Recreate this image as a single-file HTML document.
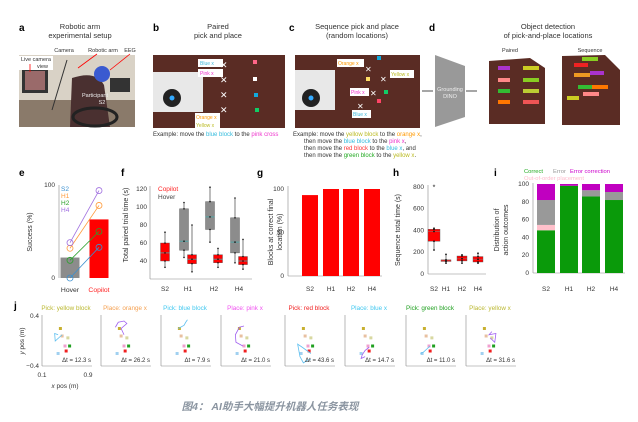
<!DOCTYPE html>
<html><head><meta charset="utf-8"><style>
body{margin:0;background:#fff}
svg{display:block;font-family:"Liberation Sans","Noto Sans CJK SC",sans-serif;font-size:6.5px}
.t{fill:#333}
.lbl{font-size:10px;font-weight:bold;fill:#000}
.tk{fill:#333}
</style></head><body>
<svg id="fig" width="638" height="422" viewBox="0 0 638 422">
<g>
<text class="lbl" x="19" y="31">a</text>
<text class="t" x="80" y="29" text-anchor="middle" font-size="7.5">Robotic arm</text>
<text class="t" x="80" y="38" text-anchor="middle" font-size="7.5">experimental setup</text>
<rect x="19" y="55" width="116" height="72" fill="#d9d2c6"/>
<rect x="19" y="100" width="116" height="27" fill="#8a7a6a"/>
<rect x="22" y="68" width="26" height="25" fill="#333"/><rect x="25" y="71" width="20" height="19" fill="#9a6a6a"/>
<rect x="110" y="78" width="20" height="14" fill="#333"/>
<path d="M72 78 Q96 70 104 85 L110 127 L70 127 Z" fill="#4a3030"/>
<circle cx="102" cy="74" r="8" fill="#3a5ad0"/>
<ellipse cx="95" cy="117" rx="22" ry="9" fill="none" stroke="#222" stroke-width="3"/>
<line x1="52" y1="110" x2="67" y2="60" stroke="#333"/>
<text class="t" x="95" y="97" text-anchor="middle" style="fill:#eee" font-size="5.5">Participant</text>
<text class="t" x="102" y="104" text-anchor="middle" style="fill:#eee" font-size="5.5">S2</text>
<text class="t" x="64" y="52" text-anchor="middle" font-size="5.5">Camera</text>
<text class="t" x="103" y="52" text-anchor="middle" font-size="5.5">Robotic arm</text>
<text class="t" x="130" y="52" text-anchor="middle" font-size="5.5">EEG</text>
<rect x="19" y="56" width="34" height="14" fill="#fff"/>
<text class="t" x="21" y="61" font-size="5.5">Live camera</text>
<text class="t" x="37" y="68" font-size="5.5">view</text>
<line x1="97" y1="54" x2="78" y2="68" stroke="red" stroke-width="0.8"/>
<line x1="130" y1="54" x2="110" y2="70" stroke="red" stroke-width="0.8"/>
<line x1="30" y1="64" x2="30" y2="72" stroke="red" stroke-width="0.8"/>
</g>
<g>
<text class="lbl" x="153" y="31">b</text>
<text class="t" x="218" y="29" text-anchor="middle" font-size="7.5">Paired</text>
<text class="t" x="218" y="38" text-anchor="middle" font-size="7.5">pick and place</text>
<rect x="153" y="55" width="132" height="73" fill="#5a2c24"/>
<rect x="153" y="72" width="50" height="40" fill="#e8e8e8"/>
<circle cx="172" cy="98" r="9" fill="#222"/><circle cx="172" cy="98" r="2.5" fill="#3af"/>
<g font-size="5" font-family="Liberation Sans">
<rect x="198" y="59" width="25" height="8" fill="#fff"/><text x="200" y="65" fill="#4bd">Blue x</text>
<rect x="198" y="69" width="25" height="8" fill="#fff"/><text x="200" y="75" fill="#e3c">Pink x</text>
<rect x="195" y="113" width="25" height="8" fill="#fff"/><text x="196" y="119" fill="#f90">Orange x</text>
<rect x="195" y="121" width="25" height="7" fill="#fff"/><text x="196" y="127" fill="#bb2">Yellow x</text>
</g>
<g fill="#fff" font-size="9"><text x="220" y="68">✕</text><text x="220" y="83">✕</text><text x="220" y="98">✕</text><text x="220" y="113">✕</text></g>
<rect x="253" y="60" width="4" height="4" fill="#f68"/><rect x="253" y="77" width="4" height="4" fill="#fff"/>
<rect x="254" y="93" width="4" height="4" fill="#1ad"/><rect x="255" y="108" width="4" height="4" fill="#1c6"/>
<text class="t" x="153" y="136" font-size="6">Example: move the <tspan fill="#3bd">blue block</tspan> to the <tspan fill="#e3c">pink cross</tspan></text>
</g>
<g>
<text class="lbl" x="289" y="31">c</text>
<text class="t" x="357" y="29" text-anchor="middle" font-size="7.5">Sequence pick and place</text>
<text class="t" x="357" y="38" text-anchor="middle" font-size="7.5">(random locations)</text>
<rect x="295" y="55" width="125" height="73" fill="#5a2c24"/>
<rect x="295" y="70" width="40" height="40" fill="#e8e8e8"/>
<circle cx="311" cy="98" r="9" fill="#222"/><circle cx="311" cy="98" r="2.5" fill="#3af"/>
<g font-size="5" font-family="Liberation Sans">
<rect x="337" y="59" width="27" height="8" fill="#fff"/><text x="338" y="65" fill="#f90">Orange x</text>
<rect x="390" y="70" width="24" height="8" fill="#fff"/><text x="391" y="76" fill="#bb2">Yellow x</text>
<rect x="350" y="88" width="19" height="8" fill="#fff"/><text x="351" y="94" fill="#e3c">Pink x</text>
<rect x="352" y="110" width="19" height="8" fill="#fff"/><text x="353" y="116" fill="#4bd">Blue x</text>
</g>
<g fill="#fff" font-size="8"><text x="365" y="72">✕</text><text x="380" y="82">✕</text><text x="370" y="96">✕</text><text x="357" y="109">✕</text></g>
<rect x="377" y="56" width="4" height="4" fill="#1ad"/><rect x="366" y="77" width="4" height="4" fill="#fd6"/>
<rect x="384" y="90" width="4" height="4" fill="#1c6"/><rect x="377" y="99" width="4" height="4" fill="#f46"/>
<g class="t" font-size="6">
<text x="293" y="136">Example: move the <tspan fill="#bb2">yellow block</tspan> to the <tspan fill="#f90">orange x</tspan>,</text>
<text x="304" y="143">then move the <tspan fill="#3bd">blue block</tspan> to the <tspan fill="#e3c">pink x</tspan>,</text>
<text x="304" y="150">then move the <tspan fill="#f33">red block</tspan> to the <tspan fill="#3bd">blue x</tspan>, and</text>
<text x="304" y="157">then move the <tspan fill="#2a2">green block</tspan> to the <tspan fill="#bb2">yellow x</tspan>.</text>
</g>
</g>
<g>
<text class="lbl" x="429" y="31">d</text>
<text class="t" x="548" y="29" text-anchor="middle" font-size="7.5">Object detection</text>
<text class="t" x="548" y="38" text-anchor="middle" font-size="7.5">of pick-and-place locations</text>
<line x1="422" y1="91" x2="433" y2="91" stroke="#222" stroke-width="0.8"/>
<line x1="466" y1="91" x2="477" y2="91" stroke="#222" stroke-width="0.8"/>
<polygon points="435,55 465,66 465,117 435,127" fill="#999"/>
<text x="450" y="91" font-size="5.5" fill="#eee" text-anchor="middle">Grounding</text>
<text x="450" y="98" font-size="5.5" fill="#eee" text-anchor="middle">DINO</text>
<text class="t" x="510" y="52" text-anchor="middle" font-size="5.5">Paired</text>
<text class="t" x="590" y="52" text-anchor="middle" font-size="5.5">Sequence</text>
<polygon points="489,61 530,58 545,68 545,124 489,124" fill="#5a2c24"/>
<polygon points="562,56 605,55 620,70 620,125 562,125" fill="#5a2c24"/>
<g>
<rect x="498" y="66" width="12" height="4" fill="#a3c"/><rect x="498" y="78" width="12" height="4" fill="#f88"/>
<rect x="498" y="89" width="12" height="4" fill="#3b3"/><rect x="498" y="100" width="12" height="4" fill="#f70"/>
<rect x="523" y="66" width="16" height="4" fill="#cc2"/><rect x="523" y="78" width="16" height="4" fill="#8c2"/>
<rect x="523" y="89" width="16" height="4" fill="#bc3"/><rect x="523" y="100" width="16" height="4" fill="#e55"/>
<rect x="582" y="57" width="16" height="4" fill="#8c2"/><rect x="574" y="63" width="14" height="4" fill="#e22"/>
<rect x="574" y="73" width="16" height="4" fill="#e92"/><rect x="590" y="71" width="14" height="4" fill="#a3c"/>
<rect x="578" y="85" width="14" height="4" fill="#3b3"/><rect x="592" y="85" width="16" height="4" fill="#f70"/>
<rect x="583" y="92" width="16" height="4" fill="#f88"/><rect x="567" y="96" width="12" height="4" fill="#cc2"/>
</g>
</g>

<g id="pe">
<text class="lbl" x="19" y="176">e</text>
<text class="tk" x="32" y="232" transform="rotate(-90 32 232)" text-anchor="middle" font-size="7">Success (%)</text>
</g>
<g id="pf">
<text class="lbl" x="121" y="176">f</text>
<text class="tk" x="128" y="225" transform="rotate(-90 128 225)" text-anchor="middle" font-size="7">Total paired trial time (s)</text>
<text x="158" y="191" font-size="6.5" fill="#f22">Copilot</text>
<text x="158" y="199" font-size="6.5" fill="#444">Hover</text>
</g>
<g id="pg">
<text class="lbl" x="257" y="176">g</text>
<text class="tk" x="273" y="232" transform="rotate(-90 273 232)" text-anchor="middle" font-size="7">Blocks at correct final</text>
<text class="tk" x="282" y="232" transform="rotate(-90 282 232)" text-anchor="middle" font-size="7">location (%)</text>
</g>
<g id="ph">
<text class="lbl" x="393" y="176">h</text>
<text class="tk" x="400" y="230" transform="rotate(-90 400 230)" text-anchor="middle" font-size="7">Sequence total time (s)</text>
</g>
<g id="pi">
<text class="lbl" x="494" y="176">i</text>
<text class="tk" x="499" y="230" transform="rotate(-90 499 230)" text-anchor="middle" font-size="7">Distribution of</text>
<text class="tk" x="508" y="230" transform="rotate(-90 508 230)" text-anchor="middle" font-size="7">action outcomes</text>
<text x="524" y="173" font-size="5.8" fill="#2a2">Correct</text>
<text x="553" y="173" font-size="5.8" fill="#999">Error</text>
<text x="570" y="173" font-size="5.8" fill="#c0c">Error correction</text>
<text x="524" y="180" font-size="5.8" fill="#fbc">Out-of-order placement</text>
</g>
<g id="pj">
<text class="lbl" x="14" y="309">j</text>
<text class="tk" x="24" y="341" transform="rotate(-90 24 341)" text-anchor="middle" font-size="6.5"><tspan font-style="italic">y</tspan> pos (m)</text>
<text class="tk" x="65" y="388" text-anchor="middle" font-size="6.5"><tspan font-style="italic">x</tspan> pos (m)</text>
</g>
<text x="270" y="410" text-anchor="middle" font-size="10.5" font-weight="bold" font-style="italic" fill="#8a94a0">图4：  AI助手大幅提升机器人任务表现</text>
</svg>
<script>
const NS="http://www.w3.org/2000/svg";
function mk(p,tag,a,txt){const e=document.createElementNS(NS,tag);for(const k in a)e.setAttribute(k,a[k]);if(txt!==undefined)e.textContent=txt;p.appendChild(e);return e;}

const eGroups=["Hover","Copilot"];
const eBars=[22,63];
const eSubjects=["S2","H1","H2","H4"];
const eSubjColors=["#3a8fd0","#ff9a3a","#2aa02a","#a070e0"];
const eHover=[0,32,19,38];
const eCopilot=[33,78,50,94];
const fCats=["S2","H1","H2","H4"];
const fHover=[null,[44,52,62,98,105],[61,75,89,106,122],[38,49,61,88,110]];
const fCopilot=[[33,40,49,60,72],[28,37,42,47,80],[33,38,42,47,54],[31,36,40,45,64]];
const fTicks=[40,60,80,100,120];
const gCats=["S2","H1","H2","H4"];
const gVals=[93,100,100,100];
const gTicks=[0,50,100];
const hCats=["S2","H1","H2","H4"];
const hBoxes=[[220,300,390,410,420],[100,115,120,130,180],[100,120,140,165,175],[100,110,135,160,190]];
const hOutliers=[800,null,null,null];
const hTicks=[0,200,400,600,800];
const iCats=["S2","H1","H2","H4"];
const iCorrect=[48,98,86,82];
const iOutOfOrder=[6,0,0,0];
const iError=[28,0,7,9];
const iErrCorr=[18,2,7,9];
const iTicks=[0,20,40,60,80,100];
const jTitles=["Pick: yellow block","Place: orange x","Pick: blue block","Place: pink x","Pick: red block","Place: blue x","Pick: green block","Place: yellow x"];
const jTitleColors=["#bbb830","#f5a050","#40c8f0","#f050f0","#f02020","#40c8f0","#20a020","#bbb830"];
const jDt=["12.3","26.2","7.9","21.0","43.6","14.7","11.0","31.6"];
const jTrajX=[[0.38,0.32,0.33,0.45],[0.35,0.4,0.5,0.55,0.45,0.5],[0.4,0.5,0.53,0.56],[0.5,0.42,0.35,0.36,0.48],[0.55,0.4,0.32,0.36,0.42,0.5,0.55],[0.52,0.45,0.4,0.38,0.45],[0.52,0.4,0.35],[0.55,0.5,0.62,0.6,0.52]];
const jTrajY=[[0.1,0.12,0,0.1],[0.22,0.3,0.32,0.28,0.2,0.1],[0.2,0.25,0.3,0.34],[0.24,0.22,0.1,-0.02,-0.08],[-0.2,-0.1,-0.05,-0.25,-0.35,-0.3,-0.3],[-0.1,-0.15,-0.22,-0.28,-0.25],[-0.08,-0.18,-0.2],[0.15,0.1,0.12,-0.02,0.05]];
const jBlockX=[0.42,0.45,0.55,0.5,0.58,0.52,0.38];
const jBlockY=[0.2,0.08,0.05,-0.08,-0.08,-0.16,-0.2];
const jBlockC=["#c8b030","#e8c0a0","#d8d8a0","#f0a0d0","#20a020","#f02020","#a0d0f0"];

(function(){const g=document.getElementById('pe');const y=v=>278-v*0.93;const xc=[70,99];
mk(g,'line',{x1:59,y1:185,x2:59,y2:278,stroke:'#888','stroke-width':0.6});
[0,100].forEach(t=>{mk(g,'text',{class:'tk',x:55,y:y(t)+2,'text-anchor':'end'},t);});
eBars.forEach((v,i)=>{const r=mk(g,'rect',{x:xc[i]-9.5,y:y(v),width:19,height:278-y(v),fill:i?'#ff0000':'#8c8c8c'});


mk(g,'text',{x:xc[i],y:292,'text-anchor':'middle','font-size':6.8,fill:i?'#f22':'#333'},eGroups[i]);});
eSubjects.forEach((s,i)=>{const c=eSubjColors[i];
const l=mk(g,'line',{x1:xc[0],y1:y(eHover[i]),x2:xc[1],y2:y(eCopilot[i]),stroke:c,'stroke-width':0.8});


mk(g,'circle',{cx:xc[0],cy:y(eHover[i]),r:3,fill:'none',stroke:c,'stroke-width':0.8});
mk(g,'circle',{cx:xc[1],cy:y(eCopilot[i]),r:3,fill:'none',stroke:c,'stroke-width':0.8});
mk(g,'text',{x:61,y:191+i*7,'font-size':6.5,fill:c},s);});})();

(function(){const g=document.getElementById('pf');const y=v=>261-(v-40)*0.9;const cx=[165,188,214,239];
mk(g,'line',{x1:150,y1:186,x2:150,y2:279,stroke:'#888','stroke-width':0.6});
mk(g,'line',{x1:150,y1:279,x2:252,y2:279,stroke:'#888','stroke-width':0.6});
fTicks.forEach(t=>mk(g,'text',{class:'tk',x:147,y:y(t)+2,'text-anchor':'end'},t));
function box(x,b,fill,name){const w=9;
mk(g,'line',{x1:x,y1:y(b[0]),x2:x,y2:y(b[4]),stroke:'#222','stroke-width':0.6});
const r=mk(g,'rect',{x:x-w/2,y:y(b[3]),width:w,height:y(b[1])-y(b[3]),fill:fill,stroke:'#555','stroke-width':0.4});


mk(g,'line',{x1:x-w/2,y1:y(b[2]),x2:x+w/2,y2:y(b[2]),stroke:'#4aa','stroke-width':0.8});
b.forEach(v=>mk(g,'circle',{cx:x,cy:y(v),r:0.8,fill:'#111'}));}
fCats.forEach((c,i)=>{const hasH=fHover[i]!==null;
if(hasH)box(cx[i]-4,fHover[i],'#8c8c8c','box-hover-'+c.toLowerCase());
box(hasH?cx[i]+4:cx[i],fCopilot[i],'#ff0000','box-copilot-'+c.toLowerCase());
mk(g,'text',{class:'tk',x:cx[i],y:291,'text-anchor':'middle'},c);});})();

(function(){const g=document.getElementById('pg');const y=v=>276-v*0.87;const cx=[310,331,351,372];
mk(g,'line',{x1:288,y1:186,x2:288,y2:276,stroke:'#888','stroke-width':0.6});
mk(g,'line',{x1:288,y1:276,x2:382,y2:276,stroke:'#888','stroke-width':0.6});
gTicks.forEach(t=>mk(g,'text',{class:'tk',x:284,y:y(t)+2,'text-anchor':'end'},t));
gCats.forEach((c,i)=>{const r=mk(g,'rect',{x:cx[i]-8,y:y(gVals[i]),width:16,height:276-y(gVals[i]),fill:'#ff0000'});


mk(g,'text',{class:'tk',x:cx[i],y:291,'text-anchor':'middle'},c);});})();

(function(){const g=document.getElementById('ph');const y=v=>274-v*0.109;const cx=[434,446,462,478];
mk(g,'line',{x1:428,y1:185,x2:428,y2:274,stroke:'#888','stroke-width':0.6});
mk(g,'line',{x1:428,y1:274,x2:486,y2:274,stroke:'#888','stroke-width':0.6});
hTicks.forEach(t=>mk(g,'text',{class:'tk',x:424,y:y(t)+2,'text-anchor':'end'},t));
hCats.forEach((c,i)=>{const b=hBoxes[i],x=cx[i],w=i?10:12;
mk(g,'line',{x1:x,y1:y(b[0]),x2:x,y2:y(b[4]),stroke:'#222','stroke-width':0.6});
const r=mk(g,'rect',{x:x-w/2,y:y(b[3]),width:w,height:y(b[1])-y(b[3]),fill:'#ff0000',stroke:'#555','stroke-width':0.4});


mk(g,'line',{x1:x-w/2,y1:y(b[2]),x2:x+w/2,y2:y(b[2]),stroke:'#a55','stroke-width':0.8});
b.forEach(v=>mk(g,'circle',{cx:x,cy:y(v),r:0.9,fill:'#111'}));
if(hOutliers[i]!==null)mk(g,'text',{x:x,y:y(hOutliers[i])+2.5,'font-size':7,'text-anchor':'middle',fill:'#111'},'*');
mk(g,'text',{class:'tk',x:x,y:291,'text-anchor':'middle'},c);});})();

(function(){const g=document.getElementById('pi');const y=v=>273-v*0.89;const cx=[546,569,591,614];
mk(g,'line',{x1:533,y1:183,x2:533,y2:273,stroke:'#888','stroke-width':0.6});
mk(g,'line',{x1:533,y1:273,x2:625,y2:273,stroke:'#888','stroke-width':0.6});
iTicks.forEach(t=>mk(g,'text',{class:'tk',x:529,y:y(t)+2,'text-anchor':'end'},t));
const series=[[iCorrect,'#0a9a0a','correct'],[iOutOfOrder,'#ffc0cb','out-of-order'],[iError,'#999999','error'],[iErrCorr,'#c000c0','error-correction']];
iCats.forEach((c,i)=>{let base=0;series.forEach(s=>{const v=s[0][i];if(v>0){
const r=mk(g,'rect',{x:cx[i]-9,y:y(base+v),width:18,height:v*0.89,fill:s[1]});

}base+=v;});
mk(g,'text',{class:'tk',x:cx[i],y:291,'text-anchor':'middle'},c);});})();

(function(){const g=document.getElementById('pj');const ox=[42,101,161,221,285,345,406,466];
jTitles.forEach((t,p)=>{const x0=ox[p];const X=v=>x0+(v-0.1)/0.8*46;const Y=v=>341-v*62.5;
const tt=mk(g,'text',{x:x0+24,y:310,'text-anchor':'middle','font-size':6.3,fill:jTitleColors[p]},t);


mk(g,'line',{x1:x0,y1:315,x2:x0,y2:366,stroke:'#888','stroke-width':0.6});
mk(g,'line',{x1:x0,y1:366,x2:x0+50,y2:366,stroke:'#888','stroke-width':0.6});
if(p===0){mk(g,'text',{class:'tk',x:x0-3,y:318,'text-anchor':'end'},'0.4');mk(g,'text',{class:'tk',x:x0-3,y:368,'text-anchor':'end'},'−0.4');
mk(g,'text',{class:'tk',x:x0,y:377,'text-anchor':'middle'},'0.1');mk(g,'text',{class:'tk',x:x0+46,y:377,'text-anchor':'middle'},'0.9');}
jBlockX.forEach((bx,k)=>mk(g,'rect',{x:X(bx)-1.5,y:Y(jBlockY[k])-1.5,width:3,height:3,fill:jBlockC[k]}));
const pts=jTrajX[p].map((v,k)=>X(v)+','+Y(jTrajY[p][k])).join(' ');
const pl=mk(g,'polyline',{points:pts,fill:'none',stroke:p%2?'#a060f0':'#60c0f0','stroke-width':0.8});


mk(g,'text',{x:x0+49,y:362,'text-anchor':'end','font-size':6,fill:'#333'},'Δt = '+jDt[p]+' s');});})();
</script>
</body></html>
